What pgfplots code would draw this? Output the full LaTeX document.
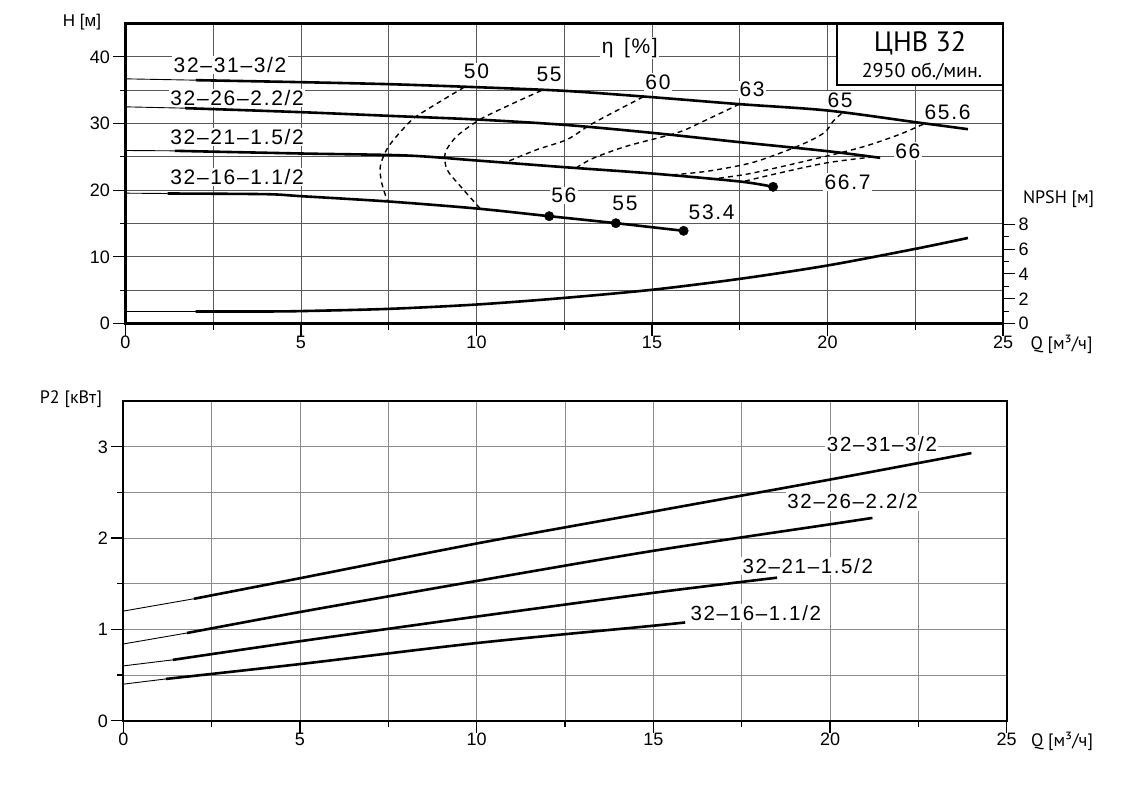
\documentclass[border=0pt]{standalone}
\usepackage{fontspec}
\setmainfont{Liberation Sans}
\newfontfamily\ptsans{PT Sans}
\newfontfamily\labfont[LetterSpace=8]{Liberation Sans}
\usepackage{pgfplots}
\pgfplotsset{compat=1.18}
\tikzset{
  lab/.style={fill=white, inner sep=1.5pt, font=\labfont\fontsize{21}{21}\selectfont},
  lab2/.style={fill=white, inner sep=1.5pt, font=\labfont\fontsize{20.5}{20}\selectfont},
}
\begin{document}
\begin{tikzpicture}
\useasboundingbox (0pt,0pt) rectangle (1124pt,-786pt);
\pgfplotsset{
  common/.style={
    scale only axis, anchor=south west,
    xmin=0, xmax=25,
    tick align=outside,
    major tick length=12pt, minor tick length=6pt,
    tick style={black, line width=1.1pt},
    axis line style={black, line width=2.2pt},
    ticklabel style={font=\fontsize{18}{18}\selectfont, text height=12.8pt, text depth=0pt},
    /pgf/number format/assume math mode=true,
    clip=false,
  },
  thk/.style={black, line width=2.6pt, smooth},
  thn/.style={black, line width=0.9pt},
  eta/.style={black, line width=1.4pt, dash pattern=on 5pt off 4pt, smooth},
}
% ---------------- top: Q-H ----------------
\begin{axis}[common, tick pos=left,
  at={(125.5pt,-323.5pt)}, width=877.5pt, height=300pt,
  ymin=0, ymax=45,
  xtick={0,5,...,25}, minor xtick={2.5,7.5,...,22.5},
  ytick={0,10,...,40}, minor ytick={5,15,...,35},
  grid=both,
  major grid style={black!65, line width=0.8pt},
  minor grid style={black!65, line width=0.8pt},
  xticklabel style={yshift=3pt},
]
\node[lab] at (axis cs:2.98,38.8) {32–31–3/2};
\node[lab] at (axis cs:3.18,33.8) {32–26–2.2/2};
\node[lab] at (axis cs:3.18,27.97) {32–21–1.5/2};
\node[lab] at (axis cs:3.18,22.0) {32–16–1.1/2};
\node[lab] at (axis cs:14.37,41.3) {η\hspace{0.5em}[\%]};
\node[lab] at (axis cs:10.0,37.8) {50};
\node[lab] at (axis cs:12.07,37.4) {55};
\node[lab] at (axis cs:15.17,36.24) {60};
\node[lab] at (axis cs:17.85,35.1) {63};
\node[lab] at (axis cs:20.36,33.5) {65};
\node[lab] at (axis cs:23.42,31.73) {65.6};
\node[lab] at (axis cs:22.29,25.86) {66};
\node[lab] at (axis cs:20.57,21.2) {66.7};
\node[lab] at (axis cs:12.49,19.2) {56};
\node[lab] at (axis cs:14.23,17.97) {55};
\node[lab] at (axis cs:16.7,16.69) {53.4};
% efficiency curves
\addplot[eta] coordinates {(9.65,35.45) (8.5,31.8) (8.11,30.3) (7.5,26.6) (7.26,23.6) (7.3,21.1) (7.47,18.25)};
\addplot[eta] coordinates {(11.85,34.95) (10.87,32.6) (10.1,30.6) (9.44,28.1) (9.11,25.6) (9.16,23.1) (9.54,20.6) (10.12,17.15)};
\addplot[eta] coordinates {(14.75,34.0) (13.34,30.1) (12.58,27.6) (11.73,26.1) (10.87,24.25)};
\addplot[eta] coordinates {(17.49,32.9) (16.37,30.1) (15.71,28.6) (14.28,26.6) (13.33,24.8) (12.87,23.45)};
\addplot[eta] coordinates {(20.4,31.5) (20.17,30.4) (19.9,28.6) (19.2,26.7) (17.9,24.2) (16.65,22.9) (15.6,22.3)};
\addplot[eta] coordinates {(22.73,29.9) (22.07,28.4) (21.2,26.8) (20.36,25.6) (18.75,23.6) (17.7,22.4) (16.84,21.75)};
\addplot[eta] coordinates {(21.31,25.0) (19.98,24.1) (18.65,22.6) (17.6,21.3)};
% Q-H curves
\addplot[thn] coordinates {(0,36.7) (2,36.5)};
\addplot[thk] coordinates {(2,36.5) (5,36.2) (7.5,35.9) (10,35.45) (12.5,34.9) (15,33.95) (17.5,32.9) (20,31.95) (22.5,30.2) (24,29.15)};
\addplot[thn] coordinates {(0,32.5) (1.7,32.3)};
\addplot[thk] coordinates {(1.7,32.3) (5,31.7) (7.5,31.15) (10,30.6) (12.5,29.8) (15,28.6) (17.5,27.2) (20,25.85) (21.5,24.85)};
\addplot[thn] coordinates {(0,25.95) (1.4,25.9)};
\addplot[thk] coordinates {(1.4,25.9) (5,25.5) (8,25.2) (10,24.45) (12.5,23.45) (15,22.5) (17.5,21.3) (18.45,20.5)};
\addplot[thn] coordinates {(0,19.55) (1.2,19.5)};
\addplot[thk] coordinates {(1.2,19.5) (4,19.4) (5,19.1) (7.5,18.3) (10,17.25) (12.07,16.1) (13.97,15.05) (15.9,13.9)};
\addplot[only marks, mark=*, mark size=4.7pt, black] coordinates {(18.45,20.5) (12.07,16.1) (13.97,15.05) (15.9,13.9)};
\end{axis}
% ---------------- NPSH axis ----------------
\begin{axis}[common,
  at={(125.5pt,-323.5pt)}, width=877.5pt, height=300pt,
  ymin=0, ymax=24.2,
  axis x line=none, axis y line*=right,
  ytick pos=right, yticklabel pos=right,
  axis line style={draw=none},
  ytick={0,2,...,8}, minor ytick={1,3,5,7},
]
\addplot[thn] coordinates {(0,0.97) (2,0.97)};
\addplot[thk] coordinates {(2,0.97) (4,0.97) (5,1.0) (7.5,1.18) (10,1.53) (12.4,2.04) (15,2.72) (17.5,3.6) (20,4.68) (22.5,6.02) (24,6.9)};
\end{axis}
% ---------------- bottom: Q-P2 ----------------
\begin{axis}[common, tick pos=left,
  at={(123.3pt,-720.7pt)}, width=883.4pt, height=319.7pt,
  ymin=0, ymax=3.5,
  xtick={0,5,...,25}, minor xtick={2.5,7.5,...,22.5},
  ytick={0,1,2,3}, minor ytick={0.5,1.5,2.5},
  grid=both,
  major grid style={black!45, line width=0.8pt},
  minor grid style={black!45, line width=0.8pt},
  xticklabel style={yshift=4pt},
]
\node[lab2] at (axis cs:21.47,3.03) {32–31–3/2};
\node[lab2] at (axis cs:20.64,2.40) {32–26–2.2/2};
\node[lab2] at (axis cs:19.37,1.69) {32–21–1.5/2};
\node[lab2] at (axis cs:17.9,1.18) {32–16–1.1/2};
\addplot[thn] coordinates {(0,1.2) (2,1.335)};
\addplot[thk] coordinates {(2,1.335) (5,1.56) (10,1.94) (15,2.29) (20,2.64) (24,2.93)};
\addplot[thn] coordinates {(0,0.84) (1.8,0.96)};
\addplot[thk] coordinates {(1.8,0.96) (5,1.19) (10,1.53) (15,1.86) (20,2.15) (21.2,2.22)};
\addplot[thn] coordinates {(0,0.6) (1.4,0.666)};
\addplot[thk] coordinates {(1.4,0.666) (5,0.87) (10,1.14) (15,1.4) (18.5,1.566)};
\addplot[thn] coordinates {(0,0.4) (1.2,0.457)};
\addplot[thk] coordinates {(1.2,0.457) (5,0.62) (10,0.85) (15,1.04) (15.9,1.076)};
\end{axis}
% ---------------- box and axis labels ----------------
\fill[white] (837pt,-24.7pt) rectangle (1001.9pt,-85pt);
\draw[line width=1.3pt] (837pt,-24pt) -- (837pt,-85pt) -- (1003pt,-85pt);
\node[font=\ptsans\fontsize{28}{28}\selectfont] at (920pt,-43pt) {ЦНВ 32};
\node[font=\ptsans\fontsize{20}{20}\selectfont] at (922pt,-72pt) {2950 об./мин.};
\node[font=\fontsize{17}{17}\selectfont] at (82pt,-22pt) {H [м]};
\node[font=\ptsans\fontsize{18}{18}\selectfont] at (1058.6pt,-199pt) {NPSH [м]};
\node[font=\ptsans\fontsize{18}{18}\selectfont] at (1061.5pt,-344pt) {Q [м³/ч]};
\node[font=\ptsans\fontsize{18}{18}\selectfont] at (71pt,-399pt) {P2 [кВт]};
\node[font=\ptsans\fontsize{18}{18}\selectfont] at (1062pt,-741.7pt) {Q [м³/ч]};
\end{tikzpicture}
\end{document}
